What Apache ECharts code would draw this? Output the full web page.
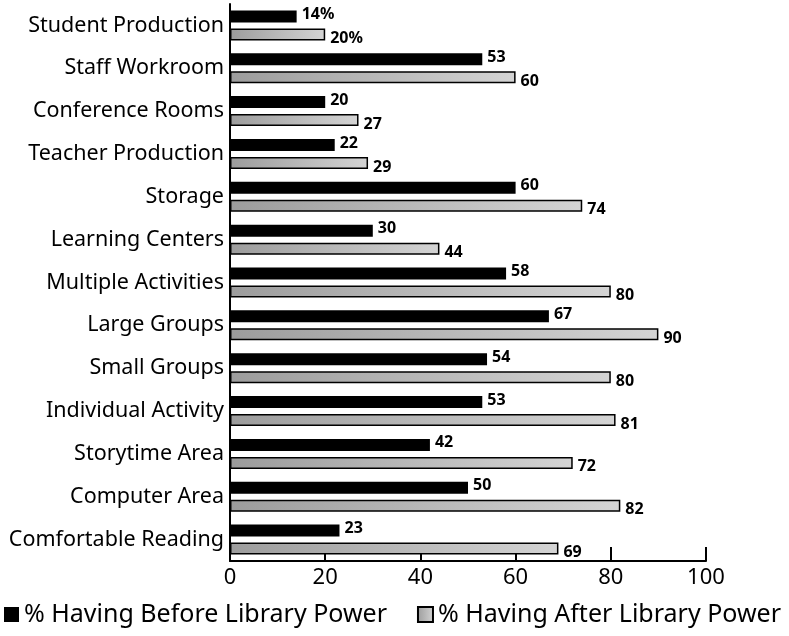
<!DOCTYPE html>
<html><head><meta charset="utf-8">
<script src="https://cdn.jsdelivr.net/npm/echarts@6/dist/echarts.min.js"></script>
<style>html,body{margin:0;padding:0;background:#fff}#c{width:789px;height:636px}</style>
</head><body><div id="c"></div>
<script>
const categories = ["Student Production","Staff Workroom","Conference Rooms","Teacher Production","Storage","Learning Centers","Multiple Activities","Large Groups","Small Groups","Individual Activity","Storytime Area","Computer Area","Comfortable Reading"];
const beforeValues = [14,53,20,22,60,30,58,67,54,53,42,50,23];
const afterValues = [20,60,27,29,74,44,80,90,80,81,72,82,69];
const xTicks = {min:0,max:100,interval:20};
const seriesNames = ["% Having Before Library Power","% Having After Library Power"];

const afterFill = new echarts.graphic.LinearGradient(0,0,1,0,[{offset:0,color:'#9c9c9c'},{offset:1,color:'#d4d4d4'}]);
const font = '"Noto Sans", sans-serif';
const chart = echarts.init(document.getElementById('c'));
const lbl = (extra) => Object.assign({show:true,position:'right',distance:5,fontFamily:font,fontWeight:'bold',fontSize:16,color:'#000',
  formatter:p => p.dataIndex===0 ? p.value+'%' : String(p.value)}, extra);
chart.setOption({
  animation:false,
  grid:{left:230,right:83,top:4,bottom:75,containLabel:false},
  legend:{bottom:9,left:4,width:785,padding:0,orient:'horizontal',itemWidth:15,itemHeight:15,itemGap:30,icon:'rect',
    textStyle:{fontFamily:font,fontSize:25,color:'#000'},data:seriesNames},
  xAxis:{type:'value',min:xTicks.min,max:xTicks.max,interval:xTicks.interval,
    axisLine:{show:true,lineStyle:{color:'#000',width:2}},
    axisTick:{show:true,inside:true,length:14,lineStyle:{color:'#000',width:2}},
    splitLine:{show:false},
    axisLabel:{fontFamily:font,fontSize:22,color:'#000',margin:6}},
  yAxis:{type:'category',data:categories,inverse:true,
    axisLine:{show:true,lineStyle:{color:'#000',width:2}},
    axisTick:{show:false},
    axisLabel:{fontFamily:font,fontSize:21.5,color:'#000',margin:6}},
  series:[
    {name:seriesNames[0],type:'bar',data:beforeValues,barWidth:12,barGap:'50%',
      itemStyle:{color:'#000'},label:lbl({offset:[0,-2]})},
    {name:seriesNames[1],type:'bar',data:afterValues,barWidth:12,
      itemStyle:{color:afterFill,borderColor:'#000',borderWidth:1.5},label:lbl({offset:[0,4]})}
  ]
});
</script></body></html>
